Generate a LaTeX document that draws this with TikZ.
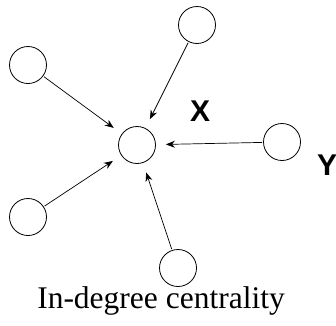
\documentclass[tikz,border=0pt]{standalone}
\usepackage{fontspec}
\setmainfont{Liberation Serif}
\setsansfont{Liberation Sans}
\usetikzlibrary{arrows.meta}

\begin{document}
\begin{tikzpicture}[
    x=1pt, y=-1pt,
    vertex/.style={draw, circle, minimum size=37pt, inner sep=0pt, line width=0.8pt},
    arr/.style={-{Stealth[length=9pt, width=7pt]}, line width=0.7pt, shorten >=10pt, shorten <=1pt},
    tag/.style={font=\sffamily\bfseries\fontsize{30}{32}\selectfont}
  ]
    \useasboundingbox (0,0) rectangle (336,325);

    \node[vertex] (hub) at (137,145) {};
    \node[vertex] (top) at (197,25) {};
    \node[vertex] (upleft) at (28,65) {};
    \node[vertex] (right) at (282,142) {};
    \node[vertex] (lowleft) at (28,217) {};
    \node[vertex] (bottom) at (178,268) {};

    \node[tag] (xlab) at (200,111) {X};
    \node[tag] (ylab) at (327,165) {Y};
    \node[font=\fontsize{31.5}{34}\selectfont] (title) at (161,301) {In-degree centrality};

    \draw[arr] (upleft) -- (hub);
    \draw[arr] (top) -- (hub);
    \draw[arr] (right) -- (hub);
    \draw[arr] (lowleft) -- (hub);
    \draw[arr] (bottom) -- (hub);
\end{tikzpicture}
\end{document}
